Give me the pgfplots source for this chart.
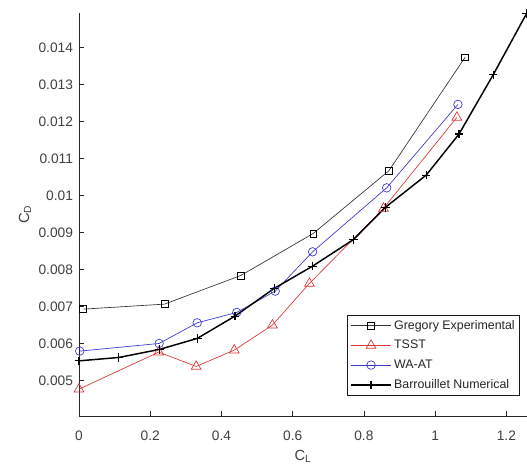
\documentclass[border=0pt]{standalone}
\usepackage{fontspec}
\setmainfont{Liberation Sans}
\usepackage{pgfplots}
\pgfplotsset{compat=1.18}
\definecolor{axgray}{RGB}{38,38,38}
\definecolor{tickgray}{RGB}{64,64,64}
\definecolor{tsstred}{RGB}{215,55,55}
\definecolor{wablue}{RGB}{55,55,205}
\begin{document}
\begin{tikzpicture}
\useasboundingbox (-59.25pt,-42.75pt) rectangle (336pt,312pt);
\begin{axis}[
  at={(0,0)}, anchor=south west,
  scale only axis, width=336pt, height=302.25pt,
  xmin=0, xmax=1.258, ymin=0.00405, ymax=0.01494,
  axis x line=bottom, axis y line=left,
  axis line style={-, axgray, line width=0.6pt},
  tick style={axgray, line width=0.6pt},
  tick align=inside, major tick length=3.5pt,
  xtick={0,0.2,0.4,0.6,0.8,1,1.2},
  xticklabels={0,0.2,0.4,0.6,0.8,1,1.2},
  ytick={0.005,0.006,0.007,0.008,0.009,0.01,0.011,0.012,0.013,0.014},
  yticklabels={0.005,0.006,0.007,0.008,0.009,0.01,0.011,0.012,0.013,0.014},
  scaled y ticks=false,
  ticklabel style={font=\fontsize{10.3}{12}\selectfont, text=tickgray},
  xticklabel style={yshift=-7.5pt},
  yticklabel style={xshift=-1pt},
  xlabel={C\textsubscript{L}}, ylabel={C\textsubscript{D}},
  label style={font=\fontsize{11}{13}\selectfont, text=tickgray},
  xlabel style={at={(0.5,0)}, anchor=center, yshift=-30pt},
  ylabel style={at={(0,0.5)}, anchor=center, xshift=0pt, yshift=40.5pt, rotate=0},
  legend style={at={(0.984,0.05)}, anchor=south east, draw=black!90, line width=0.6pt,
    fill=white, font=\fontsize{9.3}{11}\selectfont, text=black!85,
    inner xsep=2pt, inner ysep=3pt, row sep=5.2pt,
    nodes={inner xsep=1.5pt, inner ysep=0.8pt}},
  legend cell align=left,
  legend image code/.code={
    \draw[mark repeat=2,mark phase=2,#1] plot coordinates {(0pt,0pt)(15.3pt,0pt)(30.6pt,0pt)};},
]
\addplot[black!80, line width=0.5pt, mark=square, mark size=2.6pt, mark options={solid,black}] coordinates {
(0.012,0.006938) (0.240,0.007073) (0.455,0.007849) (0.658,0.008984) (0.870,0.010676) (1.084,0.013741)};
\addlegendentry{Gregory Experimental}
\addplot[tsstred, line width=0.5pt, mark=triangle, mark size=4.2pt, mark options={solid}] coordinates {
(0.000,0.004776) (0.224,0.005776) (0.329,0.005389) (0.436,0.005830) (0.543,0.006505) (0.647,0.007632) (0.855,0.009659) (1.061,0.012119)};
\addlegendentry{TSST}
\addplot[wablue, line width=0.5pt, mark=o, mark size=3.2pt, mark options={solid}] coordinates {
(0.002,0.005803) (0.225,0.006010) (0.332,0.006568) (0.443,0.006849) (0.551,0.007424) (0.656,0.008486) (0.864,0.010216) (1.064,0.012470)};
\addlegendentry{WA-AT}
\addplot[black, line width=1.1pt, mark=+, mark size=3.2pt, mark options={solid, line width=0.9pt}] coordinates {
(0.000,0.005540) (0.112,0.005632) (0.226,0.005849) (0.332,0.006146) (0.438,0.006749) (0.548,0.007497) (0.656,0.008100) (0.771,0.008820) (0.860,0.009686) (0.975,0.010559) (1.067,0.011668) (1.163,0.013270) (1.257,0.014930)};
\addlegendentry{Barrouillet Numerical}
\end{axis}
\end{tikzpicture}
\end{document}
